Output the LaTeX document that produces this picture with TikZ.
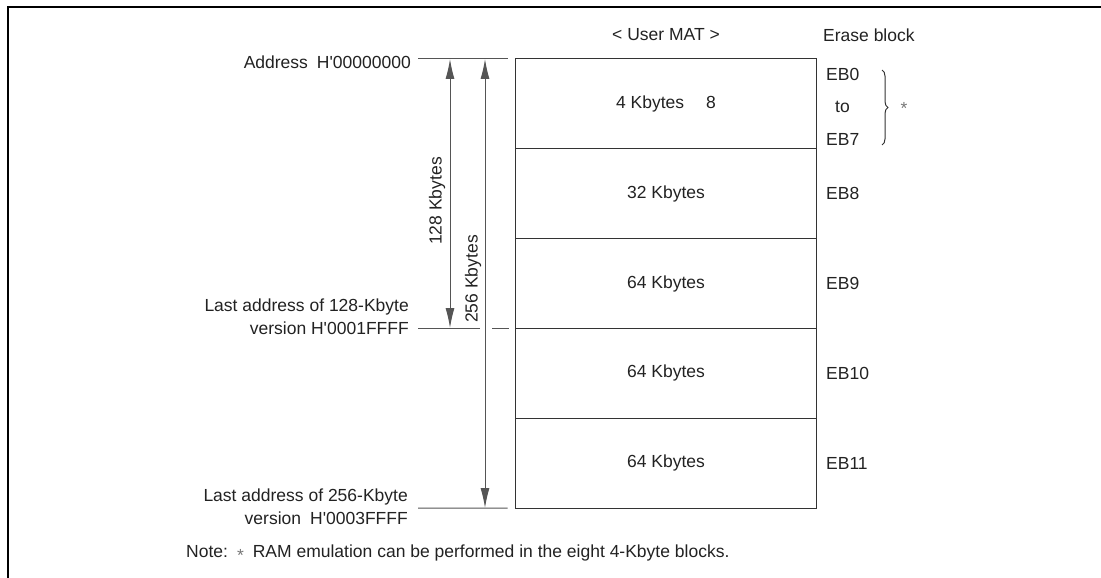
\documentclass[tikz,border=0pt]{standalone}
\usepackage{fontspec}
\setmainfont{Liberation Sans}
\usetikzlibrary{arrows.meta,decorations.pathreplacing}
\definecolor{txt}{HTML}{222222}
\definecolor{boxc}{HTML}{333333}
\definecolor{linec}{HTML}{555555}
\definecolor{starc}{HTML}{777777}
\newcommand{\q}{\textquotesingle}
\begin{document}
\begin{tikzpicture}[x=1pt,y=-1pt,
  every node/.style={font=\fontsize{17.5}{23}\selectfont, text=txt, inner sep=0pt},
  memrow/.style={draw=boxc, line width=1pt, outer sep=0pt, minimum width=301pt, minimum height=89.8pt},
  leader/.style={draw=linec, line width=1pt},
  dimarrow/.style={draw=linec, line width=1pt, {Latex[length=20pt,width=9pt]}-{Latex[length=20pt,width=9pt]}},
  frameline/.style={line width=2.6pt, draw=black},
  ebl/.style={anchor=west},
  star/.style={text=starc}]
\useasboundingbox (0,0) rectangle (1101,578);
% frame
\draw[frameline] (8,578) -- (8,7) -- (1101,7);
% memory rows
\node[memrow] (r1) at (666,103.9) {4 Kbytes\hspace{22pt}8};
\node[memrow,anchor=north] (r2) at (r1.south) {32 Kbytes};
\node[memrow,anchor=north] (r3) at (r2.south) {64 Kbytes};
\node[memrow,anchor=north] (r4) at (r3.south) {64 Kbytes};
\node[memrow,anchor=north] (r5) at (r4.south) {64 Kbytes};
% headers
\node (mat) at (666,35) {< User MAT >};
\node[ebl] (eh) at (823,35) {Erase block};
\coordinate (ebx) at (826,0);
% erase block labels
\node[ebl] (eb0) at (826,74) {EB0};
\node[ebl] (ebto) at (835,107) {to};
\node[ebl] (eb7) at (826,139) {EB7};
\node[ebl] (eb8) at (ebx |- r2.center) {EB8};
\node[ebl] (eb9) at (ebx |- r3.center) {EB9};
\node[ebl] (eb10) at (ebx |- r4.center) {EB10};
\node[ebl] (eb11) at (ebx |- r5.center) {EB11};
\coordinate (bt) at (882,70);
\coordinate (bb) at (882,145);
\draw[boxc, line width=1pt, decorate, decoration={brace, amplitude=6pt}] (bt) -- (bb);
\node[star] (bstar) at (904,108) {\raisebox{-4pt}{*}};
% address labels
\node[anchor=east] (addr0) at (411,62) {Address\hspace{9pt}H\q 00000000};
\node[anchor=east, align=right] (addr128) at (409,316.5) {Last address of 128-Kbyte\\version H\q 0001FFFF};
\node[anchor=east, align=right] (addr256) at (408,507) {Last address of 256-Kbyte\\version\hspace{9pt}H\q 0003FFFF};
% leader lines
\coordinate (l0a) at (418,59);
\coordinate (l0b) at ([xshift=-8pt]r1.north west);
\draw[leader] (l0a) -- (l0b);
\coordinate (l1a) at (418,328);
\coordinate (l1b) at (480,328);
\draw[leader] (l1a) -- (l1b);
\coordinate (l1c) at (492,328);
\coordinate (l1d) at (509,328);
\draw[leader] (l1c) -- (l1d);
\coordinate (l2a) at (418,508);
\coordinate (l2b) at ([xshift=-8pt]r5.south west);
\draw[leader] (l2a) -- (l2b);
% dimension arrows
\coordinate (d1t) at (450,59);
\coordinate (d1b) at (450,328);
\draw[dimarrow] (d1t) -- (d1b);
\coordinate (d2t) at (485,59);
\coordinate (d2b) at (485,508);
\draw[dimarrow] (d2t) -- (d2b);
\node[rotate=90] (k128) at (437,201) {128 Kbytes};
\node[rotate=90] (k256) at (473,279) {256 Kbytes};
% note
\node[anchor=west] (note) at (186,553) {Note:\hspace{9pt}\raisebox{-4pt}{\textcolor{starc}{*}}\hspace{9pt}RAM emulation can be performed in the eight 4-Kbyte blocks.};
\end{tikzpicture}
\end{document}
